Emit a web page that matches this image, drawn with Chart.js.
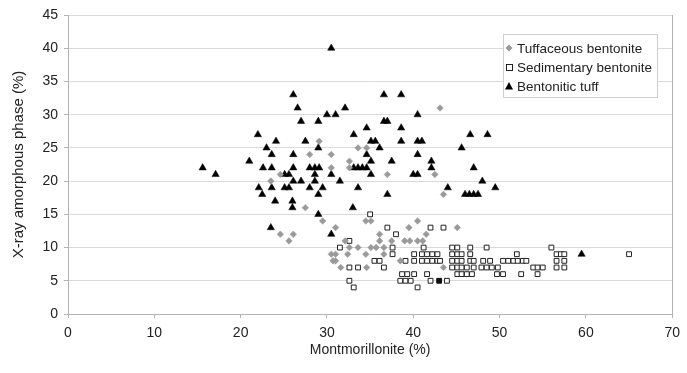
<!DOCTYPE html>
<html>
<head>
<meta charset="utf-8">
<script src="https://cdn.jsdelivr.net/npm/chart.js@4.4.1/dist/chart.umd.min.js"></script>
<style>
  html, body { margin: 0; padding: 0; background: #fff; }
  #wrap { width: 687px; height: 373px; }
</style>
</head>
<body>
<div id="wrap"><canvas id="chart" width="687" height="373"></canvas></div>
<script>
// Montmorillonite (%) vs X-ray amorphous phase (%)
const xTitle = 'Montmorillonite (%)';
const yTitle = 'X-ray amorphous phase (%)';
const seriesNames = ['Tuffaceous bentonite', 'Sedimentary bentonite', 'Bentonitic tuff'];

// [montmorillonite, amorphous]
const tuffaceous = [
    [24.6,21],[23.5,20],[24.6,12],[25.6,11],[26.1,12],[27.5,16],[28,24],[29.1,26],[29.5,14],
    [30.5,24],[30.5,22],[31,13],[30.5,9],[31,9],[30.7,8],[31,8],[31.6,7],[32.6,23],[32.6,22],
    [32.4,9],[32.1,11],[32.6,10],[33.6,10],[33.6,25],[34.6,25],[34.5,14],[35.1,14],[34.5,9],
    [34.6,7],[35.1,10],[35.7,10],[36.1,12],[36.1,11],[36.6,10],[36.6,9],[37,21],[37.5,11],
    [38.5,8],[39,11],[39.6,11],[39.5,13],[40.5,14],[40.5,11],[41.1,11],[41.5,12],[42.5,21],
    [43.1,31],[43.5,18],[43.5,7],[45.1,13]
];

const sedimentary = [
    [31.5,10],[32.6,11],[32.6,7],[33.6,7],[32.6,5],[33.1,4],[35,15],[35.5,8],[36.1,8],[36.6,7],
    [37,13],[37.6,10],[37.6,9],[38,12],[38.7,6],[39.3,6],[40.1,6],[38.5,5],[39.1,5],[39.7,5],
    [40.5,4],[39.1,8],[40.1,8],[41,8],[41.6,8],[42.2,8],[42.8,8],[40.1,9],[41,9],[41.6,9],
    [42.2,9],[42.8,9],[41.2,10],[41.6,6],[42,5],[42,13],[43.5,13],[43.9,5],[43.1,8],
    [44.5,10],[45.1,10],[44.5,9],[45.1,9],[45.6,9],[46.6,10],[46.6,9],[46.6,8],[44.5,8],
    [45.1,8],[45.6,8],[44.5,7],[45.1,7],[45.6,7],[46.2,7],[47,7],[47,8],[45.1,6],[45.6,6],
    [46.2,6],[46.8,6],[47.9,7],[48.5,7],[49.1,7],[49.8,7],[48.1,8],[48.9,8],[48.5,10],
    [49.7,6],[50.4,6],[50.4,8],[51,8],[51.6,8],[52.1,8],[52.7,8],[53.1,8],[52,9],[52.5,6],
    [53.9,7],[54.4,7],[55,7],[54.4,6],[56,10],[56.6,9],[57.1,9],[57.5,9],[56.6,8],[57.5,8],
    [56.6,7],[57.5,7],[65,9]
];
// one sedimentary sample drawn solid
const sedimentarySolid = [[43,5]];

const bentoniticTuff = [
    [15.6,22],[17.1,21],[21,23],[22,27],[22.1,19],[22.5,18],[22.6,22],[23,25],[23.5,13],
    [23.6,24],[23.6,22],[23.6,19],[24.1,26],[24,17],[25.1,21],[25.6,21],[25.1,19],[25.6,19],
    [26.1,33],[26.6,31],[26.1,24],[26.1,22],[26.1,20],[26,17],[26,16],[27,29],[27.5,26],
    [27,20],[28,22],[28.6,22],[29.1,22],[28,19],[28.6,21],[28.6,20],[29,29],[29,25],[29,18],
    [29,15],[29.5,19],[30,30],[30.5,40],[30.5,21],[30.5,12],[31,30],[31.5,20],[32.1,31],
    [33.1,27],[33,16],[33.1,22],[33.6,22],[34.1,22],[34.6,22],[33.6,19],[34.6,28],[34.6,24],
    [35.1,26],[35.6,26],[35.1,23],[35.1,21],[36.1,25],[36.6,33],[36.6,29],[37,29],[37,18],
    [37.5,23],[38.6,33],[38.6,28],[38.6,26],[40,21],[40.5,21],[40.5,30],[40.5,26],[41,26],
    [40.5,24],[42.1,23],[42.1,22],[44,19],[45.6,25],[46,18],[46.5,18],[47,18],[47.5,18],
    [46.6,27],[47,22],[48,20],[48.6,27],[49.5,19],[59.5,9]
];

const xMin = 0, xMax = 70, xStep = 10;
const yMin = 0, yMax = 45, yStep = 5;

const toXY = arr => arr.map(p => ({ x: p[0], y: p[1] }));

const FONT = "'Liberation Sans', Arial, sans-serif";

// legend drawn inside the plot, top right, plus the right frame line
const frameAndLegend = {
    id: 'frameAndLegend',
    beforeDatasetsDraw(chart) {
        const { ctx, chartArea } = chart;
        ctx.save();
        ctx.strokeStyle = '#b3b3b3';
        ctx.lineWidth = 1;
        ctx.beginPath();
        ctx.moveTo(Math.round(chartArea.right) + 0.5, chartArea.top);
        ctx.lineTo(Math.round(chartArea.right) + 0.5, chartArea.bottom);
        ctx.stroke();
        ctx.restore();
    },
    afterDraw(chart) {
        const ctx = chart.ctx;
        const bx = 503.5, by = 34.5, bw = 154, bh = 63;
        ctx.save();
        ctx.fillStyle = '#fff';
        ctx.fillRect(bx, by, bw, bh);
        ctx.strokeStyle = '#cfcfcf';
        ctx.lineWidth = 1;
        ctx.strokeRect(bx, by, bw, bh);

        ctx.font = '13.5px ' + FONT;
        ctx.textBaseline = 'middle';
        ctx.fillStyle = '#222';
        const rows = [48, 67, 86];
        const mx = 509;
        rows.forEach((y, i) => {
            ctx.save();
            if (i === 0) {
                ctx.fillStyle = '#999';
                ctx.beginPath();
                ctx.moveTo(mx, y - 3.5); ctx.lineTo(mx + 3.5, y);
                ctx.lineTo(mx, y + 3.5); ctx.lineTo(mx - 3.5, y);
                ctx.closePath(); ctx.fill();
            } else if (i === 1) {
                ctx.fillStyle = '#fff';
                ctx.strokeStyle = '#222';
                ctx.fillRect(mx - 3, y - 3, 6, 6);
                ctx.strokeRect(mx - 3 + 0.5, y - 3 + 0.5, 6, 6);
            } else {
                ctx.fillStyle = '#000';
                ctx.beginPath();
                ctx.moveTo(mx, y - 4); ctx.lineTo(mx + 4, y + 3.5); ctx.lineTo(mx - 4, y + 3.5);
                ctx.closePath(); ctx.fill();
            }
            ctx.restore();
            ctx.fillText(seriesNames[i], mx + 8, y + 1);
        });
        ctx.restore();
    }
};

const chart = new Chart(document.getElementById('chart').getContext('2d'), {
    type: 'scatter',
    data: {
        datasets: [
            {
                label: seriesNames[0],
                data: toXY(tuffaceous),
                pointStyle: 'rectRot',
                radius: 3.3,
                backgroundColor: '#9a9a9a',
                borderColor: '#9a9a9a',
                borderWidth: 0.5
            },
            {
                label: seriesNames[1],
                data: toXY(sedimentary),
                pointStyle: 'rect',
                radius: 3.4,
                backgroundColor: '#fff',
                borderColor: '#222',
                borderWidth: 1
            },
            {
                label: seriesNames[1] + ' (solid)',
                data: toXY(sedimentarySolid),
                pointStyle: 'rect',
                radius: 3.4,
                backgroundColor: '#111',
                borderColor: '#111',
                borderWidth: 1
            },
            {
                label: seriesNames[2],
                data: toXY(bentoniticTuff),
                pointStyle: 'triangle',
                radius: 4.2,
                backgroundColor: '#000',
                borderColor: '#000',
                borderWidth: 0.5
            }
        ]
    },
    options: {
        responsive: false,
        animation: false,
        layout: { padding: { left: 0, right: 2, top: 15, bottom: 0 } },
        plugins: {
            legend: { display: false },
            tooltip: { enabled: false }
        },
        scales: {
            x: {
                type: 'linear',
                min: xMin, max: xMax,
                afterFit: s => { s.height = 59; },
                ticks: {
                    stepSize: xStep,
                    padding: 7,
                    color: '#222',
                    font: { family: FONT, size: 14 }
                },
                grid: { drawOnChartArea: false, drawTicks: true, tickLength: 4, color: '#b3b3b3' },
                border: { display: true, color: '#b3b3b3', width: 1 },
                title: {
                    display: true,
                    text: xTitle,
                    color: '#222',
                    font: { family: FONT, size: 14 },
                    padding: { top: 0, bottom: 14 }
                }
            },
            y: {
                type: 'linear',
                min: yMin, max: yMax,
                afterFit: s => { s.width = 68; },
                ticks: {
                    stepSize: yStep,
                    padding: 6,
                    color: '#222',
                    font: { family: FONT, size: 14 }
                },
                grid: { color: '#d9d9d9', tickLength: 4, tickColor: '#b3b3b3' },
                border: { display: true, color: '#b3b3b3', width: 1 },
                title: {
                    display: true,
                    text: yTitle,
                    color: '#222',
                    font: { family: FONT, size: 15 },
                    padding: { top: 10, bottom: 0 }
                }
            }
        }
    },
    plugins: [frameAndLegend]
});
</script>
</body>
</html>
